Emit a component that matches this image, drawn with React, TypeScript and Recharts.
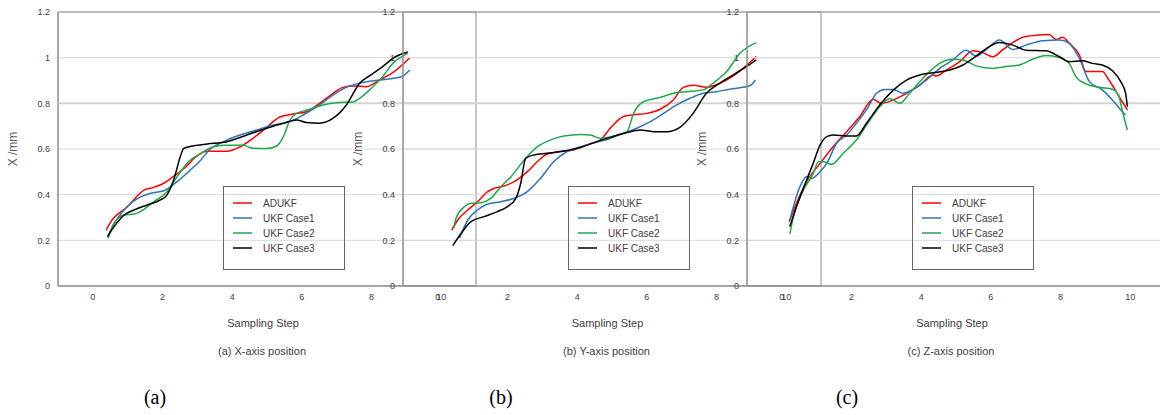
import React from 'react';
import { LineChart, Line, XAxis, YAxis, CartesianGrid, ReferenceLine, ReferenceArea } from 'recharts';

type P = [number, number];

const X_TICKS = [0, 2, 4, 6, 8, 10];
const Y_TICKS = [0, 0.2, 0.4, 0.6, 0.8, 1, 1.2];
const SERIES_NAMES = ['ADUKF', 'UKF Case1', 'UKF Case2', 'UKF Case3'];
const SERIES_COLORS = ['#ff0000', '#2e75b6', '#1fa84a', '#000000'];
const PANEL_CAPTIONS = ['(a) X-axis position', '(b) Y-axis position', '(c) Z-axis position'];
const PANEL_LETTERS = ['(a)', '(b)', '(c)'];
const X_TITLE = 'Sampling Step';
const Y_TITLE = 'X /mm';

// Panel (a)
const A_ADUKF: P[] = [[0.38,0.245],[0.51,0.28],[0.99,0.347],[1.47,0.42],[1.75,0.432],[2.04,0.45],[2.32,0.48],[2.66,0.52],[2.99,0.57],[3.28,0.59],[3.85,0.59],[4.23,0.61],[4.6,0.647],[4.9,0.683],[5.37,0.74],[5.75,0.753],[6.13,0.763],[6.51,0.8],[6.9,0.844],[7.18,0.87],[7.47,0.876],[7.85,0.873],[8.23,0.902],[8.61,0.934],[9.1,1.0]];
const A_CASE1: P[] = [[0.44,0.22],[0.6,0.27],[0.9,0.333],[1.37,0.39],[1.66,0.406],[2.04,0.417],[2.42,0.457],[2.8,0.508],[3.09,0.55],[3.37,0.6],[3.75,0.632],[4.23,0.661],[4.7,0.683],[5.18,0.705],[5.66,0.72],[6.04,0.749],[6.51,0.793],[6.9,0.837],[7.28,0.87],[7.66,0.888],[8.23,0.902],[8.8,0.914],[8.94,0.924],[9.1,0.946]];
const A_CASE2: P[] = [[0.44,0.209],[0.61,0.275],[0.9,0.311],[1.18,0.315],[1.47,0.336],[1.75,0.369],[2.13,0.413],[2.42,0.479],[2.7,0.537],[3.09,0.58],[3.47,0.61],[3.85,0.616],[4.32,0.616],[4.6,0.603],[4.99,0.602],[5.28,0.613],[5.47,0.654],[5.66,0.727],[5.85,0.756],[6.23,0.774],[6.61,0.793],[6.99,0.803],[7.47,0.806],[7.66,0.822],[7.94,0.858],[8.32,0.917],[8.61,0.975],[9.04,1.019]];
const A_CASE3: P[] = [[0.42,0.216],[0.61,0.26],[0.9,0.311],[1.18,0.333],[1.56,0.355],[1.94,0.377],[2.13,0.399],[2.32,0.464],[2.51,0.566],[2.61,0.603],[2.9,0.614],[3.28,0.622],[3.85,0.632],[4.42,0.661],[4.99,0.691],[5.47,0.713],[5.85,0.727],[6.13,0.716],[6.51,0.713],[6.9,0.735],[7.28,0.793],[7.66,0.888],[7.94,0.92],[8.32,0.961],[8.7,1.005],[9.04,1.025]];

// Panel (b)
const B_ADUKF: P[] = [[0.4,0.245],[0.57,0.289],[0.86,0.333],[1.14,0.369],[1.43,0.413],[1.62,0.428],[1.9,0.438],[2.19,0.457],[2.57,0.501],[2.86,0.545],[3.14,0.578],[3.52,0.589],[3.9,0.596],[4.29,0.618],[4.67,0.64],[4.95,0.691],[5.33,0.742],[5.62,0.75],[6.0,0.756],[6.38,0.774],[6.76,0.815],[7.05,0.87],[7.33,0.879],[7.71,0.87],[8.1,0.888],[8.48,0.92],[8.76,0.953],[9.14,1.005]];
const B_CASE1: P[] = [[0.62,0.209],[0.86,0.289],[1.14,0.333],[1.43,0.359],[1.81,0.369],[2.19,0.384],[2.57,0.413],[2.95,0.472],[3.33,0.545],[3.71,0.589],[4.1,0.61],[4.48,0.628],[4.86,0.642],[5.33,0.669],[5.71,0.691],[6.1,0.72],[6.48,0.756],[6.86,0.793],[7.24,0.822],[7.62,0.844],[8.0,0.851],[8.38,0.862],[8.76,0.87],[9.0,0.881],[9.12,0.902]];
const B_CASE2: P[] = [[0.46,0.253],[0.52,0.296],[0.76,0.347],[0.95,0.362],[1.24,0.365],[1.52,0.384],[1.81,0.435],[2.1,0.479],[2.48,0.552],[2.86,0.61],[3.24,0.64],[3.62,0.657],[4.1,0.664],[4.38,0.661],[4.67,0.647],[5.05,0.657],[5.43,0.676],[5.62,0.756],[5.9,0.807],[6.38,0.826],[6.76,0.844],[7.14,0.851],[7.62,0.859],[7.9,0.888],[8.29,0.939],[8.67,1.019],[9.14,1.066]];
const B_CASE3: P[] = [[0.43,0.177],[0.67,0.231],[0.95,0.282],[1.33,0.304],[1.71,0.326],[2.0,0.348],[2.24,0.384],[2.38,0.45],[2.52,0.559],[2.76,0.574],[3.14,0.581],[3.71,0.593],[4.1,0.607],[4.48,0.628],[4.95,0.651],[5.43,0.672],[5.81,0.683],[6.19,0.676],[6.57,0.676],[6.95,0.695],[7.33,0.756],[7.71,0.844],[8.1,0.888],[8.48,0.925],[8.86,0.961],[9.14,0.99]];

// Panel (c)
const C_ADUKF: P[] = [[0.21,0.282],[0.42,0.362],[0.71,0.457],[1.1,0.537],[1.47,0.61],[1.86,0.676],[2.24,0.742],[2.62,0.818],[2.86,0.8],[3.2,0.815],[3.58,0.844],[3.96,0.88],[4.34,0.924],[4.43,0.92],[4.72,0.946],[5.1,0.982],[5.49,1.03],[5.77,1.022],[6.06,1.004],[6.34,1.034],[6.63,1.066],[6.91,1.089],[7.3,1.098],[7.68,1.101],[7.87,1.08],[8.06,1.089],[8.25,1.063],[8.54,1.012],[8.73,0.939],[9.2,0.939],[9.39,0.902],[9.68,0.83],[9.92,0.771]];
const C_CASE1: P[] = [[0.23,0.289],[0.52,0.435],[0.71,0.479],[0.86,0.472],[1.1,0.501],[1.29,0.537],[1.57,0.625],[1.86,0.661],[2.14,0.713],[2.43,0.771],[2.72,0.844],[2.96,0.861],[3.2,0.861],[3.48,0.844],[3.77,0.861],[4.15,0.902],[4.53,0.953],[4.91,0.99],[5.29,1.033],[5.58,1.007],[5.87,1.036],[6.25,1.077],[6.63,1.036],[7.01,1.055],[7.49,1.074],[7.97,1.077],[8.25,1.063],[8.54,0.997],[8.83,0.895],[9.2,0.859],[9.49,0.815],[9.73,0.771],[9.87,0.749]];
const C_CASE2: P[] = [[0.23,0.227],[0.33,0.303],[0.62,0.42],[0.9,0.492],[1.05,0.544],[1.19,0.544],[1.43,0.533],[1.76,0.581],[2.14,0.639],[2.53,0.727],[2.81,0.785],[3.1,0.821],[3.38,0.8],[3.67,0.844],[4.05,0.91],[4.53,0.975],[4.91,0.993],[5.2,0.99],[5.58,0.964],[6.06,0.953],[6.44,0.961],[6.82,0.968],[7.2,0.993],[7.58,1.009],[7.97,1.001],[8.25,0.975],[8.44,0.917],[8.73,0.885],[9.11,0.87],[9.49,0.862],[9.68,0.83],[9.78,0.764],[9.92,0.683]];
const C_CASE3: P[] = [[0.23,0.26],[0.42,0.347],[0.71,0.464],[0.9,0.537],[1.1,0.618],[1.29,0.654],[1.47,0.661],[1.86,0.657],[2.14,0.657],[2.43,0.713],[2.81,0.793],[3.2,0.858],[3.58,0.902],[3.96,0.924],[4.34,0.934],[4.82,0.946],[5.2,0.968],[5.49,0.997],[5.87,1.04],[6.25,1.066],[6.63,1.055],[7.01,1.033],[7.58,1.03],[7.97,1.004],[8.25,0.982],[8.63,0.986],[8.92,0.975],[9.2,0.968],[9.49,0.943],[9.73,0.895],[9.87,0.844],[9.92,0.785]];

const PANELS: P[][][] = [
  [A_ADUKF, A_CASE1, A_CASE2, A_CASE3],
  [B_ADUKF, B_CASE1, B_CASE2, B_CASE3],
  [C_ADUKF, C_CASE1, C_CASE2, C_CASE3],
];

const SANS = '"Liberation Sans", Arial, sans-serif';
const SERIF = '"Liberation Serif", "Times New Roman", serif';
const AXIS_GRAY = '#8c8c8c';
const TEXT_GRAY = '#404040';

const PANEL_STEP = 344.5;
const PLOT_LEFT = 58;
const CHART_W = 480;
const CHART_H = 306;

const toPts = (arr: P[]) => arr.map(([x, y]) => ({ x, y }));

function Panel({ index }: { index: number }) {
  const series = PANELS[index];
  const left = Math.round(index * PANEL_STEP);
  return (
    <div style={{ position: 'absolute', left, top: 0, width: CHART_W, height: CHART_H }}>
      <LineChart width={CHART_W} height={CHART_H} margin={{ top: 12, right: 4, bottom: 0, left: 0 }}>
        <CartesianGrid horizontal vertical={false} stroke="#d9d9d9" />
        <ReferenceLine y={0.8} stroke="#d4d4d4" strokeWidth={2} />
        <ReferenceArea x1={-1} x2={11} y1={0} y2={1.2} fill="none" stroke={AXIS_GRAY} strokeWidth={1} strokeOpacity={1} fillOpacity={0} />
        <XAxis
          type="number"
          dataKey="x"
          domain={[-1, 11]}
          ticks={X_TICKS}
          allowDataOverflow
          height={20}
          tickLine={false}
          axisLine={{ stroke: AXIS_GRAY }}
          tick={{ fontSize: 9, fill: TEXT_GRAY, fontFamily: SANS }}
        />
        <YAxis
          type="number"
          domain={[0, 1.2]}
          ticks={Y_TICKS}
          width={PLOT_LEFT}
          tickLine={false}
          axisLine={{ stroke: AXIS_GRAY }}
          tick={{ fontSize: 9, fill: TEXT_GRAY, fontFamily: SANS }}
        />
        {series.map((s, i) => (
          <Line
            key={SERIES_NAMES[i]}
            data={toPts(s)}
            dataKey="y"
            name={SERIES_NAMES[i]}
            type="monotone"
            stroke={SERIES_COLORS[i]}
            strokeWidth={1.5}
            dot={false}
            isAnimationActive={false}
          />
        ))}
      </LineChart>
      <div
        style={{
          position: 'absolute',
          left: PLOT_LEFT + 165,
          top: 186,
          width: 122,
          height: 84,
          boxSizing: 'border-box',
          border: '1px solid #666',
          fontFamily: SANS,
          fontSize: 10,
          color: TEXT_GRAY,
        }}
      >
        {SERIES_NAMES.map((n, i) => (
          <div key={n} style={{ position: 'absolute', left: 9, top: 9 + i * 15, height: 14, display: 'flex', alignItems: 'center' }}>
            <svg width={19} height={4} style={{ display: 'block' }}>
              <line x1={0} y1={2} x2={19} y2={2} stroke={SERIES_COLORS[i]} strokeWidth={1.5} />
            </svg>
            <span style={{ marginLeft: 11, whiteSpace: 'nowrap' }}>{n}</span>
          </div>
        ))}
      </div>
      <svg style={{ position: 'absolute', left: 0, top: 0, overflow: 'visible' }} width={CHART_W} height={CHART_H}>
        <text
          x={13}
          y={149}
          transform={`rotate(-90 13 149)`}
          textAnchor="middle"
          dominantBaseline="central"
          fontFamily={SANS}
          fontSize={12}
          fill="#595959"
        >
          {Y_TITLE}
        </text>
      </svg>
    </div>
  );
}

export default function App() {
  return (
    <div style={{ position: 'absolute', left: 0, top: 0, width: 1160, height: 415, overflow: 'hidden', background: '#fff' }}>
      {[0, 1, 2].map((i) => (
        <Panel key={i} index={i} />
      ))}
      <svg style={{ position: 'absolute', left: 0, top: 0 }} width={1160} height={415}>
        {[0, 1, 2].map((i) => {
          const cx = 263 + i * PANEL_STEP;
          return (
            <g key={i}>
              <text x={cx} y={323} textAnchor="middle" dominantBaseline="central" fontFamily={SANS} fontSize={11} fill={TEXT_GRAY}>
                {X_TITLE}
              </text>
              <text x={cx - 1} y={351} textAnchor="middle" dominantBaseline="central" fontFamily={SANS} fontSize={11} fill={TEXT_GRAY}>
                {PANEL_CAPTIONS[i]}
              </text>
              <text x={155 + i * 346} y={397} textAnchor="middle" dominantBaseline="central" fontFamily={SERIF} fontSize={20} fill="#000">
                {PANEL_LETTERS[i]}
              </text>
            </g>
          );
        })}
      </svg>
    </div>
  );
}
